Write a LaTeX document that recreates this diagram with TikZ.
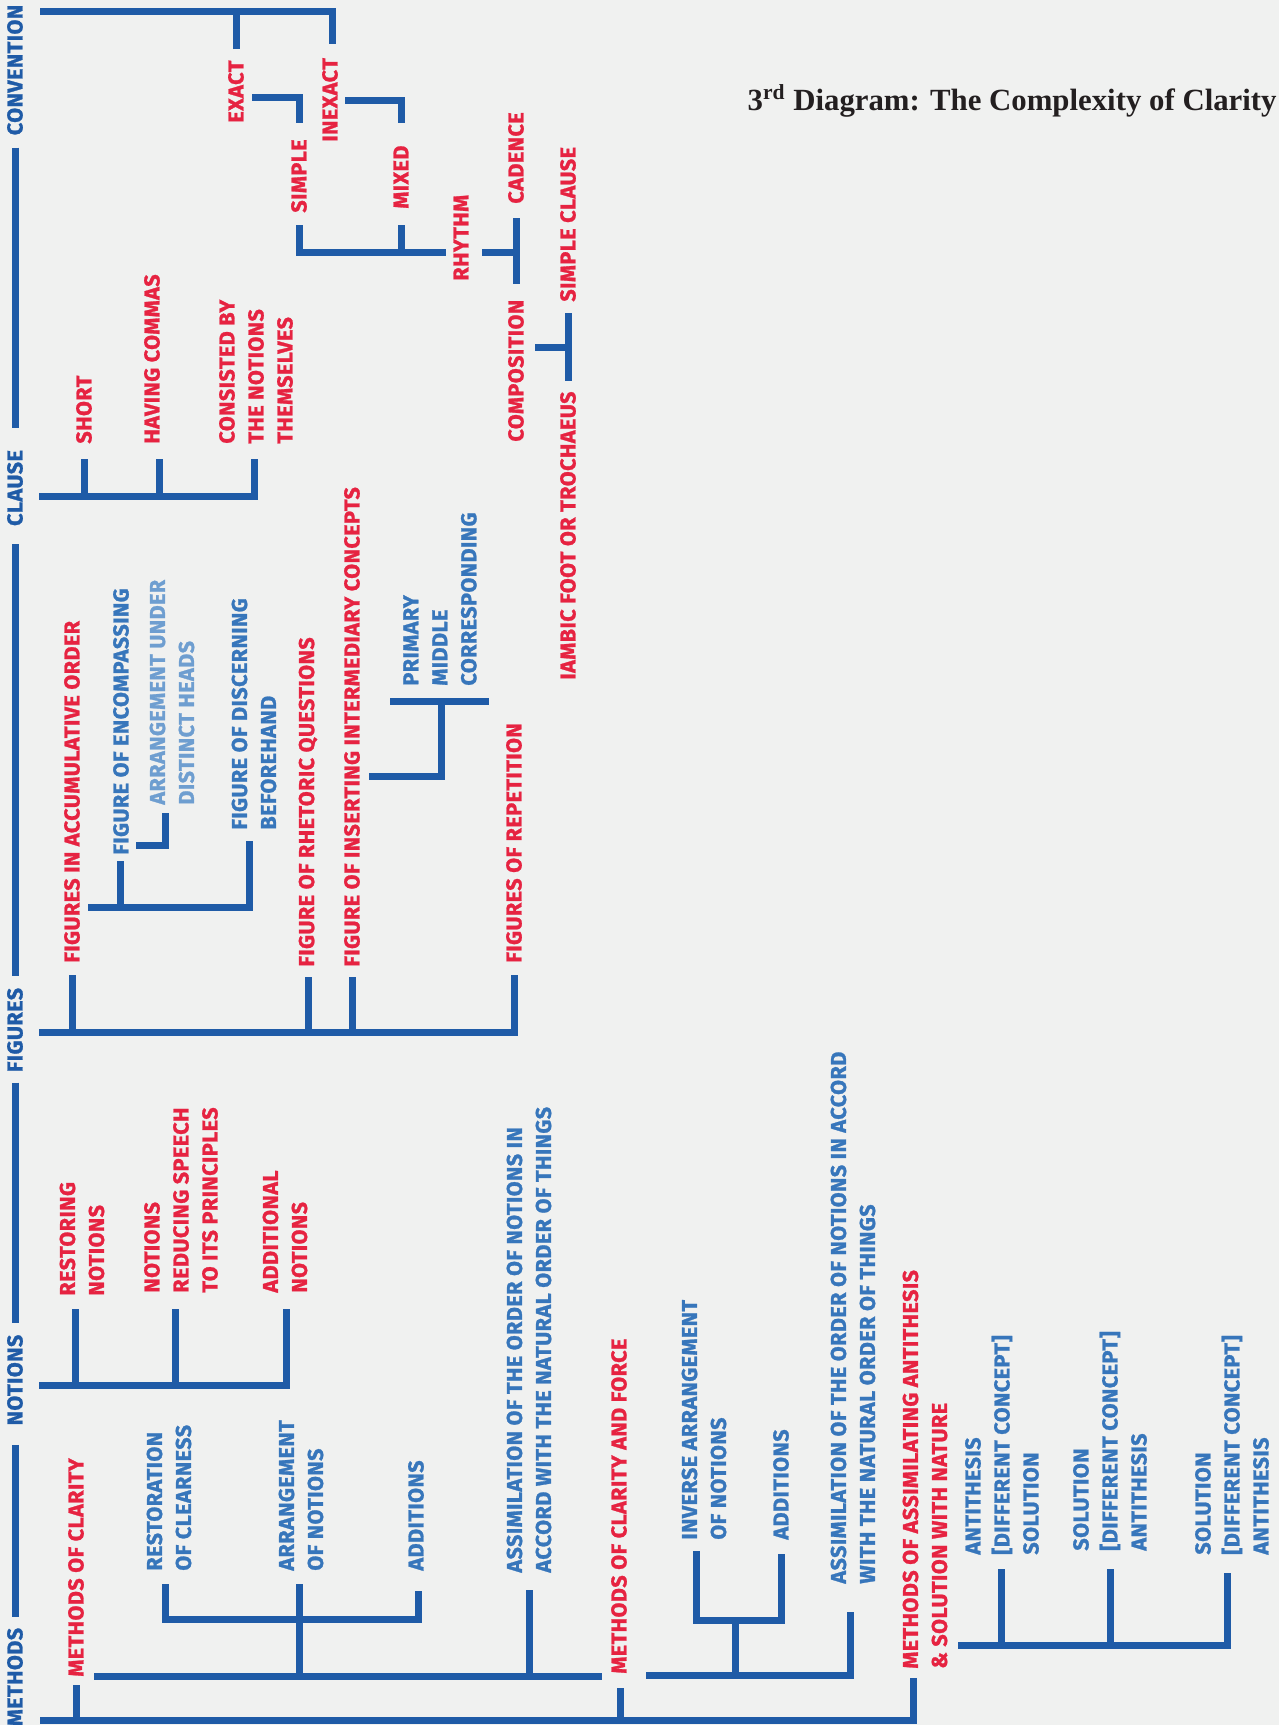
\documentclass[tikz,border=0pt]{standalone}
\usepackage{fontspec}
\newfontfamily\labelfont[LetterSpace=2, BoldFeatures={FakeBold=1.2}]{Fira Sans}
\newfontfamily\titlefont{Liberation Serif}
\definecolor{linecol}{HTML}{1F5BA7}
\definecolor{redtxt}{HTML}{E62341}
\definecolor{bluetxt}{HTML}{3776BB}
\definecolor{paletxt}{HTML}{6E9ED0}
\definecolor{bgcol}{HTML}{F0F1F0}
\definecolor{titlecol}{HTML}{231F20}
\tikzset{
  branch/.style={draw=linecol, line width=3.5pt},
  lbl/.style={rotate=90, anchor=west, inner sep=0pt, align=left,
    font=\labelfont\bfseries\fontsize{10.8}{14.5}\selectfont},
  redlbl/.style={lbl, text=redtxt},
  bluelbl/.style={lbl, text=bluetxt},
  palelbl/.style={lbl, text=paletxt},
  spine/.style={lbl, anchor=center, text=linecol},
  title/.style={inner sep=0pt, text=titlecol, font=\titlefont\bfseries\fontsize{15.4}{18}\selectfont}
}
\begin{document}
\begin{tikzpicture}[x=0.5pt,y=-0.5pt]
    \fill[bgcol] (0,0) rectangle (1279,1725);
    \useasboundingbox (0,0) rectangle (1279,1725);

    %Title
    \node[title, anchor=base east] (title) at (1277,110) {3\textsuperscript{rd} Diagram: The Complexity of Clarity};

    %Spine
    \node[spine] (convention) at (15,70) {CONVENTION};
    \node[spine] (clause) at (15,488) {CLAUSE};
    \node[spine] (figures) at (15,1030) {FIGURES};
    \node[spine] (notions) at (15,1380) {NOTIONS};
    \node[spine] (methods) at (15,1677) {METHODS};
    \draw[branch, shorten <=6pt, shorten >=11pt] (convention.west) -- (clause.east);
    \draw[branch, shorten <=9pt, shorten >=5.5pt] (clause.west) -- (figures.east);
    \draw[branch, shorten <=5pt, shorten >=5.5pt] (figures.west) -- (notions.east);
    \draw[branch, shorten <=9.5pt, shorten >=5pt] (notions.west) -- (methods.east);

    %Convention
    \coordinate (convbar) at (40,11);
    \node[redlbl] (exact) at (236,123) {EXACT};
    \node[redlbl] (inexact) at (330,142) {INEXACT};
    \node[redlbl] (simple) at (299,213) {SIMPLE};
    \node[redlbl] (mixed) at (401,209) {MIXED};
    \node[redlbl] (rhythm) at (461,281) {RHYTHM};
    \node[redlbl] (cadence) at (516,204) {CADENCE};
    \node[redlbl] (composition) at (516,442) {COMPOSITION};
    \node[redlbl] (simpleclause) at (568,302) {SIMPLE CLAUSE};
    \node[redlbl] (iambic) at (568,680) {IAMBIC FOOT OR TROCHAEUS};
    \draw[branch] (convbar) -| ([shift={(2,-14)}]inexact.east);
    \draw[branch] ([shift={(0,-11)}]exact.east) |- (convbar);
    \draw[branch] ([shift={(16,-26)}]exact.west) -| ([shift={(0,-16)}]simple.east);
    \draw[branch] ([shift={(15,-42)}]inexact.west) -| ([shift={(0,-22)}]mixed.east);
    \draw[branch] ([shift={(0,12)}]simple.west) |- ([shift={(-15,-29)}]rhythm.west);
    \draw[branch] ([shift={(0,16)}]mixed.west) |- ([shift={(-15,-29)}]rhythm.west);
    \draw[branch] ([shift={(0,14)}]cadence.west) -- ([shift={(0,-15)}]composition.east);
    \draw[branch] ([shift={(21,-29)}]rhythm.west) -| ([shift={(0,14)}]cadence.west);
    \draw[branch] ([shift={(0,11)}]simpleclause.west) -- ([shift={(0,-10)}]iambic.east);
    \draw[branch] ([shift={(19,-95)}]composition.west) -| ([shift={(0,11)}]simpleclause.west);

    %Clause
    \coordinate (clausebar) at (39,496);
    \node[redlbl] (short) at (84,444) {SHORT};
    \node[redlbl] (having) at (152,444) {HAVING COMMAS};
    \node[redlbl] (consisted) at (256,444) {CONSISTED BY\\THE NOTIONS\\THEMSELVES};
    \draw[branch] ([shift={(0,15)}]short.west) |- (clausebar);
    \draw[branch] ([shift={(7,15)}]having.west) |- (clausebar);
    \draw[branch] ([shift={(-2,15)}]consisted.west) |- (clausebar);

    %Figures
    \coordinate (figbar) at (39,1032);
    \node[redlbl] (accum) at (72,963) {FIGURES IN ACCUMULATIVE ORDER};
    \node[bluelbl] (encompassing) at (121,855) {FIGURE OF ENCOMPASSING};
    \node[palelbl] (distinct) at (172,805) {ARRANGEMENT UNDER\\DISTINCT HEADS};
    \node[bluelbl] (discerning) at (254,830) {FIGURE OF DISCERNING\\BEFOREHAND};
    \node[redlbl] (rhetoric) at (308,967) {FIGURE OF RHETORIC QUESTIONS};
    \node[redlbl] (inserting) at (352,967) {FIGURE OF INSERTING INTERMEDIARY CONCEPTS};
    \node[bluelbl] (primary) at (440,686) {PRIMARY\\MIDDLE\\CORRESPONDING};
    \node[redlbl] (repetition) at (514,963) {FIGURES OF REPETITION};
    \draw[branch] ([shift={(0,12)}]accum.west) |- (figbar);
    \draw[branch] ([shift={(0,10)}]rhetoric.west) |- (figbar);
    \draw[branch] ([shift={(0,10)}]inserting.west) |- (figbar);
    \draw[branch] ([shift={(0,12)}]repetition.west) |- (figbar);
    \draw[branch] ([shift={(16,-56)}]accum.west) -| ([shift={(-5,11)}]discerning.west);
    \draw[branch] ([shift={(-1,6)}]encompassing.west) |- ([shift={(16,-56)}]accum.west);
    \draw[branch] ([shift={(-7,8)}]distinct.west) |- ([shift={(15,-10)}]encompassing.west);
    \draw[branch] ([shift={(17,-191)}]inserting.west) -| ([shift={(1,15)}]primary.west);
    \draw[branch] ([shift={(-50,15)}]primary.west) -- ([shift={(49,15)}]primary.west);

    %Notions
    \coordinate (notbar) at (39,1385);
    \node[redlbl] (restoring) at (82,1296) {RESTORING\\NOTIONS};
    \node[redlbl] (reducing) at (181,1293) {NOTIONS\\REDUCING SPEECH\\TO ITS PRINCIPLES};
    \node[redlbl] (additional) at (285,1293) {ADDITIONAL\\NOTIONS};
    \draw[branch] ([shift={(-7,13)}]restoring.west) |- (notbar);
    \draw[branch] ([shift={(-6,16)}]reducing.west) |- (notbar);
    \draw[branch] ([shift={(1,16)}]additional.west) |- (notbar);

    %Methods
    \coordinate (methbar) at (40,1720);
    \node[redlbl] (clarity) at (76,1677) {METHODS OF CLARITY};
    \node[bluelbl] (restoration) at (169,1571) {RESTORATION\\OF CLEARNESS};
    \node[bluelbl] (arrangement) at (301,1571) {ARRANGEMENT\\OF NOTIONS};
    \node[bluelbl] (additionsA) at (416,1571) {ADDITIONS};
    \node[bluelbl] (assimA) at (529,1573) {ASSIMILATION OF THE ORDER OF NOTIONS IN\\ACCORD WITH THE NATURAL ORDER OF THINGS};
    \node[redlbl] (force) at (619,1674) {METHODS OF CLARITY AND FORCE};
    \node[bluelbl] (inverse) at (704,1540) {INVERSE ARRANGEMENT\\OF NOTIONS};
    \node[bluelbl] (additionsB) at (781,1540) {ADDITIONS};
    \node[bluelbl] (assimB) at (853,1584) {ASSIMILATION OF THE ORDER OF NOTIONS IN ACCORD\\WITH THE NATURAL ORDER OF THINGS};
    \node[redlbl] (antithesis) at (925,1669) {METHODS OF ASSIMILATING ANTITHESIS\\\& SOLUTION WITH NATURE};
    \node[bluelbl] (groupA) at (1002,1555) {ANTITHESIS\\{[}DIFFERENT CONCEPT{]}\\SOLUTION};
    \node[bluelbl] (groupB) at (1110,1551) {SOLUTION\\{[}DIFFERENT CONCEPT{]}\\ANTITHESIS};
    \node[bluelbl] (groupC) at (1232,1555) {SOLUTION\\{[}DIFFERENT CONCEPT{]}\\ANTITHESIS};
    \draw[branch] ([shift={(0,8)}]clarity.west) |- (methbar);
    \draw[branch] ([shift={(1,14)}]force.west) |- (methbar);
    \draw[branch] ([shift={(-12,9)}]antithesis.west) |- (methbar);
    %clarity
    \draw[branch] ([shift={(18,-1)}]clarity.west) -- ([shift={(-17,2)}]force.west);
    \draw[branch] ([shift={(-2,13)}]arrangement.west) |- ([shift={(18,-1)}]clarity.west);
    \draw[branch] ([shift={(0,17)}]assimA.west) |- ([shift={(18,-1)}]clarity.west);
    \draw[branch] ([shift={(-4,13)}]restoration.west) |- ([shift={(2,48)}]additionsA.west) -- ([shift={(2,20)}]additionsA.west);
    %clarity and force
    \draw[branch] ([shift={(27,1)}]force.west) -| ([shift={(-3,28)}]assimB.west);
    \draw[branch] ([shift={(-8,11)}]inverse.west) |- ([shift={(0,80)}]additionsB.west) -- ([shift={(0,14)}]additionsB.west);
    \draw[branch] ([shift={(31,80)}]inverse.west) -- ([shift={(31,135)}]inverse.west);
    %antithesis
    \draw[branch] ([shift={(33,-24)}]antithesis.west) -| ([shift={(-5,18)}]groupC.west);
    \draw[branch] ([shift={(-1,14)}]groupA.west) |- ([shift={(33,-24)}]antithesis.west);
    \draw[branch] ([shift={(0,18)}]groupB.west) |- ([shift={(33,-24)}]antithesis.west);
\end{tikzpicture}
\end{document}
